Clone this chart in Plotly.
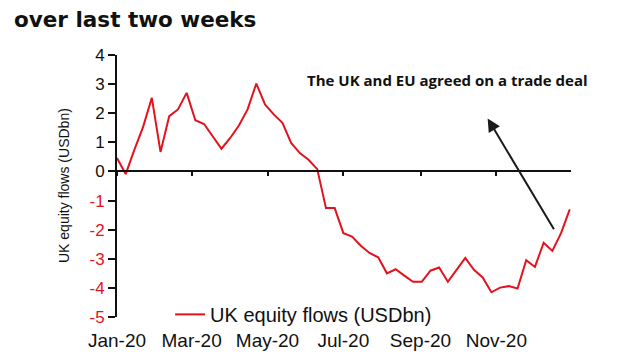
import pandas as pd
import plotly.graph_objects as go

# weekly UK equity flows (USDbn), 2020
start_date = "2020-01-01"
flows = [0.46, -0.09, 0.75, 1.53, 2.53, 0.67, 1.90, 2.13, 2.70, 1.76,
         1.63, 1.19, 0.78, 1.15, 1.58, 2.13, 3.02, 2.30, 1.96, 1.67,
         0.98, 0.63, 0.40, 0.08, -1.26, -1.26, -2.12, -2.24, -2.55, -2.80,
         -2.95, -3.50, -3.36, -3.58, -3.79, -3.79, -3.41, -3.30, -3.79, -3.38,
         -2.97, -3.38, -3.64, -4.15, -3.99, -3.94, -4.02, -3.05, -3.28, -2.45,
         -2.73, -2.12, -1.30]
dates = pd.date_range(start_date, periods=len(flows), freq="7D")

x_ticks = ["2020-01-01", "2020-03-01", "2020-05-01", "2020-07-01", "2020-09-01", "2020-11-01"]
x_tick_labels = ["Jan-20", "Mar-20", "May-20", "Jul-20", "Sep-20", "Nov-20"]
y_ticks = [4, 3, 2, 1, 0, -1, -2, -3, -4, -5]

series_name = "UK equity flows (USDbn)"
y_title = "UK equity flows (USDbn)"
title = "over last two weeks"
note = "The UK and EU agreed on a trade deal"

RED = "#e3121e"
fig = go.Figure()
fig.add_trace(go.Scatter(x=dates, y=flows, mode="lines", name=series_name,
                         line=dict(color=RED, width=2)))
# helper trace to bind the zero-line axis
fig.add_trace(go.Scatter(x=dates, y=flows, mode="lines", xaxis="x2",
                         line=dict(width=0, color="rgba(0,0,0,0)"),
                         showlegend=False, hoverinfo="skip"))

ticktext = [f"<span style='color:{RED}'>{v}</span>" if v < 0 else str(v) for v in y_ticks]

fig.update_layout(
    width=640, height=360,
    margin=dict(l=109, r=77, t=47, b=51),
    paper_bgcolor="white", plot_bgcolor="white",
    font=dict(family="Liberation Sans, Arial", color="#111111"),
    xaxis=dict(type="date", range=["2020-01-01", "2020-12-31"],
               tickvals=x_ticks, ticktext=x_tick_labels, ticks="",
               showline=False, showgrid=False, zeroline=False, automargin=False,
               tickfont=dict(size=19, color="#111111"), ticklabelstandoff=10),
    xaxis2=dict(type="date", overlaying="x", matches="x", anchor="free",
                position=5/9, side="bottom", tickvals=x_ticks, automargin=False,
                showticklabels=False, ticks="outside", ticklen=4, tickwidth=2,
                tickcolor="#111111", showline=True, linecolor="#111111",
                linewidth=1.5, showgrid=False, zeroline=False),
    yaxis=dict(range=[-5, 4], tickvals=y_ticks, ticktext=ticktext, automargin=False,
               ticks="outside", ticklen=7, tickwidth=1.5, tickcolor="#111111",
               showline=True, linecolor="#111111", linewidth=2,
               showgrid=False, zeroline=False,
               tickfont=dict(size=17, color="#111111")),
    showlegend=True,
    legend=dict(x=0.117, y=0.01, xanchor="left", yanchor="middle",
                bgcolor="rgba(0,0,0,0)", font=dict(size=20, color="#111111")),
)

fig.add_annotation(text=y_title, xref="paper", yref="paper", x=0, y=0.5,
                   xshift=-53, textangle=-90, showarrow=False,
                   xanchor="center", yanchor="middle",
                   font=dict(size=14, color="#111111"))
fig.add_annotation(text=f"<b>{title}</b>", xref="paper", yref="paper",
                   x=-0.229, y=1.134, xanchor="left", yanchor="middle",
                   showarrow=False, borderpad=0,
                   font=dict(family="DejaVu Sans", size=21.5, color="#111111"))
fig.add_annotation(text=f"<b>{note}</b>", xref="paper", yref="paper",
                   x=0.729, y=0.905, xanchor="center", yanchor="middle",
                   showarrow=False,
                   font=dict(family="Open Sans", size=15, color="#111111"))
fig.add_annotation(text="", x="2020-10-25", y=1.82, ax="2020-12-18", ay=-2.04,
                   xref="x", yref="y", axref="x", ayref="y", showarrow=True,
                   arrowhead=2, arrowsize=1.3, arrowwidth=2, arrowcolor="#1a1a1a")

fig.write_html("out.html")
